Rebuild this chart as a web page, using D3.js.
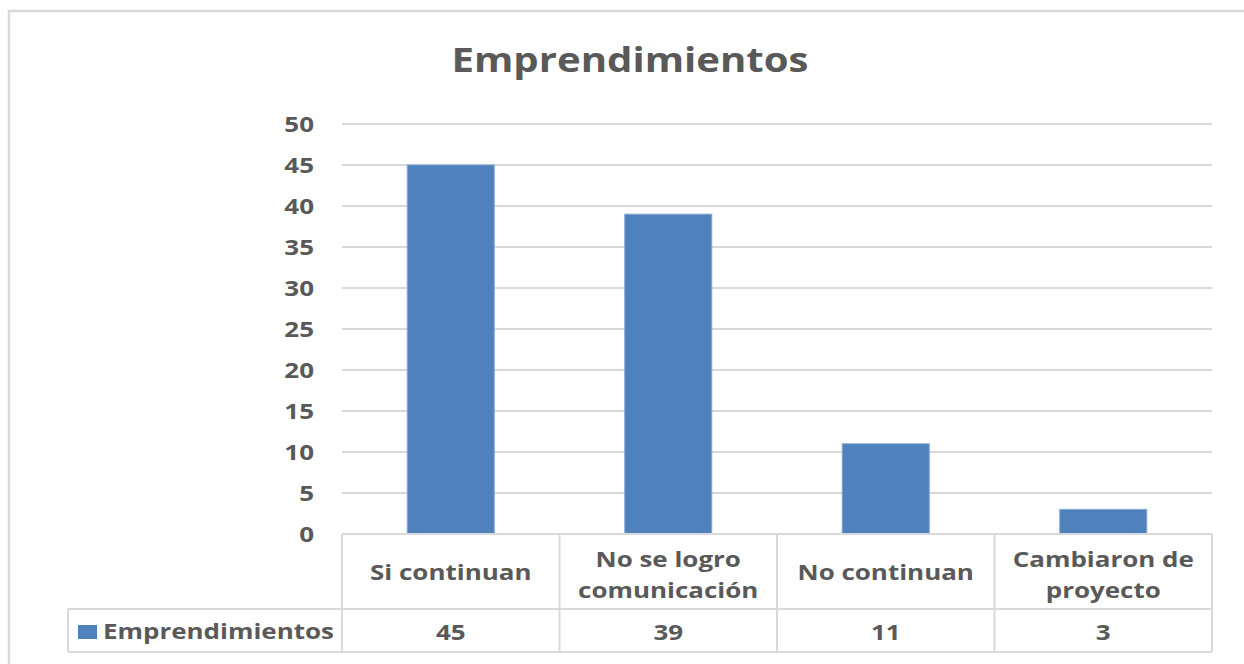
<!DOCTYPE html>
<html>
<head>
<meta charset="utf-8">
<script src="https://cdn.jsdelivr.net/npm/d3@7"></script>
<style>
  body { margin: 0; background: #fff; }
  text { font-family: "Open Sans", sans-serif; font-weight: bold; fill: #595959; }
</style>
</head>
<body>
<script>
const categories = [["Si continuan"], ["No se logro", "comunicación"], ["No continuan"], ["Cambiaron de", "proyecto"]];
const values = [45, 39, 11, 3];
const seriesName = "Emprendimientos";
const yTicks = [0, 5, 10, 15, 20, 25, 30, 35, 40, 45, 50];

const width = 1244;
const height = 664;
const color = "#4f81bd";
const grid = "#d9d9d9";
const stretch = 1.18; // the source picture is a bit wider than tall

const svg = d3.select("body")
    .append("svg")
    .attr("width", width)
    .attr("height", height);

// outer chart border
svg.append("rect")
    .attr("x", 9).attr("y", 11)
    .attr("width", 1250).attr("height", 670)
    .attr("fill", "#fff")
    .attr("stroke", grid)
    .attr("stroke-width", 2.5);

const plotLeft = 342, plotRight = 1212, plotTop = 124, plotBottom = 534;
const catRow = 609, valRow = 652, legendLeft = 68;

const idx = d3.range(values.length);

// place text at x,y and widen it
function at(x, y) {
    return `translate(${x},${y}) scale(${stretch},1)`;
}

// X scale
const x = d3.scaleBand()
    .domain(idx)
    .range([plotLeft, plotRight])
    .paddingInner(0.6)
    .paddingOuter(0.3);

const col = d3.scaleBand()
    .domain(idx)
    .range([plotLeft, plotRight]);

// Y scale
const y = d3.scaleLinear()
    .domain([0, 50])
    .range([plotBottom, plotTop]);

// title
svg.append("text")
    .attr("transform", at(630, 72))
    .attr("text-anchor", "middle")
    .style("font-size", "34px")
    .text(seriesName);

// gridlines
svg.append("g")
    .selectAll("line")
    .data(yTicks.filter(d => d > 0))
    .enter()
    .append("line")
    .attr("x1", plotLeft).attr("x2", plotRight)
    .attr("y1", d => y(d)).attr("y2", d => y(d))
    .attr("stroke", grid)
    .attr("stroke-width", 2);

// y tick labels
svg.append("g")
    .selectAll("text")
    .data(yTicks)
    .enter()
    .append("text")
    .attr("transform", d => at(314, y(d)))
    .attr("dy", "0.36em")
    .attr("text-anchor", "end")
    .style("font-size", "22px")
    .text(d => d);

// bars
svg.append("g")
    .selectAll("rect")
    .data(values)
    .enter()
    .append("rect")
    .attr("x", (d, i) => x(i))
    .attr("y", d => y(d))
    .attr("width", x.bandwidth())
    .attr("height", d => plotBottom - y(d))
    .attr("fill", color)
    .attr("stroke", "#7fa6d6")
    .attr("stroke-width", 1);

// data table
const table = svg.append("g")
    .attr("fill", "none")
    .attr("stroke", grid)
    .attr("stroke-width", 2);

table.append("line").attr("x1", plotLeft).attr("x2", plotRight).attr("y1", plotBottom).attr("y2", plotBottom);
table.append("line").attr("x1", legendLeft).attr("x2", plotRight).attr("y1", catRow).attr("y2", catRow);
table.append("line").attr("x1", legendLeft).attr("x2", plotRight).attr("y1", valRow).attr("y2", valRow);
table.append("line").attr("x1", legendLeft).attr("x2", legendLeft).attr("y1", catRow).attr("y2", valRow);

table.selectAll(".vline")
    .data(idx.concat([values.length]))
    .enter()
    .append("line")
    .attr("x1", d => d < values.length ? col(d) : plotRight)
    .attr("x2", d => d < values.length ? col(d) : plotRight)
    .attr("y1", plotBottom)
    .attr("y2", valRow);

// category labels
const catText = svg.append("g")
    .selectAll("text")
    .data(categories)
    .enter()
    .append("text")
    .attr("text-anchor", "middle")
    .style("font-size", "22px")
    .attr("transform", (d, i) => at(col(i) + col.bandwidth() / 2, d.length === 1 ? 580 : 567));

catText.selectAll("tspan")
    .data(d => d)
    .enter()
    .append("tspan")
    .attr("x", 0)
    .attr("dy", (d, i) => i === 0 ? 0 : 31)
    .text(d => d);

// value row
svg.append("g")
    .selectAll("text")
    .data(values)
    .enter()
    .append("text")
    .attr("text-anchor", "middle")
    .style("font-size", "22px")
    .attr("transform", (d, i) => at(col(i) + col.bandwidth() / 2, 640))
    .text(d => d);

// legend key
svg.append("rect")
    .attr("x", 78).attr("y", 625)
    .attr("width", 19).attr("height", 14)
    .attr("fill", color);

svg.append("text")
    .attr("transform", at(103, 639))
    .style("font-size", "22px")
    .text(seriesName);
</script>
</body>
</html>
